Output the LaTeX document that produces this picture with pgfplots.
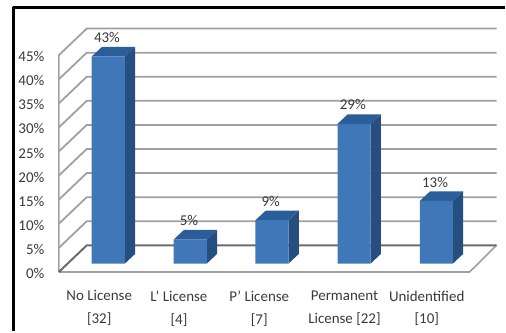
\documentclass[border=0pt]{standalone}
\usepackage{fontspec}
\setmainfont{Carlito}
\usepackage{pgfplots}
\pgfplotsset{compat=1.18}
\definecolor{barfront}{HTML}{3F77B8}
\definecolor{barside}{HTML}{264F80}
\definecolor{bartop}{HTML}{2B5D98}
\definecolor{gridgray}{HTML}{A0A0A0}
\definecolor{labelgray}{HTML}{3A3A3A}
\begin{document}
\begin{tikzpicture}
\begin{axis}[
  width=506pt, height=332pt, scale only axis,
  xmin=0, xmax=506, ymin=-14.0, ymax=54.72,
  clip=false,
  axis line style={draw=none},
  tick style={draw=none},
  major tick length=0pt,
  /pgf/number format/assume math mode=true,
  ytick={-1.74,3.26,8.26,13.26,18.26,23.26,28.26,33.26,38.26,43.26},
  yticklabels={0\%,5\%,10\%,15\%,20\%,25\%,30\%,35\%,40\%,45\%},
  y tick label style={anchor=east, xshift=48pt, yshift=-1.5pt, font=\fontsize{15}{15}\selectfont, text=labelgray},
  xtick={99.5,179.5,260,345.5,428},
  xticklabels={No License\\{[32]},L' License\\{[4]},P' License\\{[7]},Permanent\\License {[22]},Unidentified\\{[10]}},
  x tick label style={anchor=north, align=center, yshift=44pt, font=\fontsize{15}{23}\selectfont, text=labelgray},
  every axis plot/.append style={line join=round},
  unbounded coords=jump,
]
% outer frame, running off the right and bottom edges
\addplot[black, line width=3pt, forget plot] coordinates {(13.5,-14) (13.5,53.1) (506,53.1)};

% walls and floor of the chart box
\addplot[gridgray, line width=1.6pt, forget plot] coordinates {
  (59,43.26) (59,-1.74) (471,-1.74) (498,3.79)
};
% gridlines: front edge, diagonal along the wall, back edge
\addplot[gridgray, line width=1.8pt, forget plot] coordinates {
  (59,3.26) (87,8.79) (498,8.79) (498,nan)
  (59,8.26) (87,13.79) (498,13.79) (498,nan)
  (59,13.26) (87,18.79) (498,18.79) (498,nan)
  (59,18.26) (87,23.79) (498,23.79) (498,nan)
  (59,23.26) (87,28.79) (498,28.79) (498,nan)
  (59,28.26) (87,33.79) (498,33.79) (498,nan)
  (59,33.26) (87,38.79) (498,38.79) (498,nan)
  (59,38.26) (87,43.79) (498,43.79) (498,nan)
  (59,43.26) (87,48.79) (498,48.79)
};
\addplot[gray!85!black, line width=2pt, forget plot] coordinates {(59,-1.74) (87,3.79) (498,3.79)};

% side and top faces of the columns
\addplot[fill=barside, draw=none, forget plot] coordinates {(125.2,0) (135.5,2) (135.5,45) (125.2,43)} -- cycle;
\addplot[fill=bartop, draw=none, forget plot] coordinates {(92,43) (102.3,45) (135.5,45) (125.2,43)} -- cycle;
\addplot[fill=barside, draw=none, forget plot] coordinates {(207.4,0) (217.7,2) (217.7,7) (207.4,5)} -- cycle;
\addplot[fill=bartop, draw=none, forget plot] coordinates {(174.2,5) (184.5,7) (217.7,7) (207.4,5)} -- cycle;
\addplot[fill=barside, draw=none, forget plot] coordinates {(289.4,0) (299.7,2) (299.7,11) (289.4,9)} -- cycle;
\addplot[fill=bartop, draw=none, forget plot] coordinates {(256.2,9) (266.5,11) (299.7,11) (289.4,9)} -- cycle;
\addplot[fill=barside, draw=none, forget plot] coordinates {(371.7,0) (382,2) (382,31) (371.7,29)} -- cycle;
\addplot[fill=bartop, draw=none, forget plot] coordinates {(338.5,29) (348.8,31) (382,31) (371.7,29)} -- cycle;
\addplot[fill=barside, draw=none, forget plot] coordinates {(454.2,0) (464.5,2) (464.5,15) (454.2,13)} -- cycle;
\addplot[fill=bartop, draw=none, forget plot] coordinates {(421,13) (431.3,15) (464.5,15) (454.2,13)} -- cycle;

% front faces with their percentages
\addplot[ybar, bar width=33.2pt, fill=barfront, draw=none,
  point meta=y,
  nodes near coords={\pgfmathprintnumber[assume math mode=true]{\pgfplotspointmeta}\%},
  every node near coord/.style={anchor=center, yshift=19pt, xshift=-1.3pt,
    font=\fontsize{15}{15}\selectfont, text=labelgray},
] coordinates {(108.6,43) (190.8,5) (272.8,9) (355.1,29) (437.6,13)};
\end{axis}
\end{tikzpicture}
\end{document}
